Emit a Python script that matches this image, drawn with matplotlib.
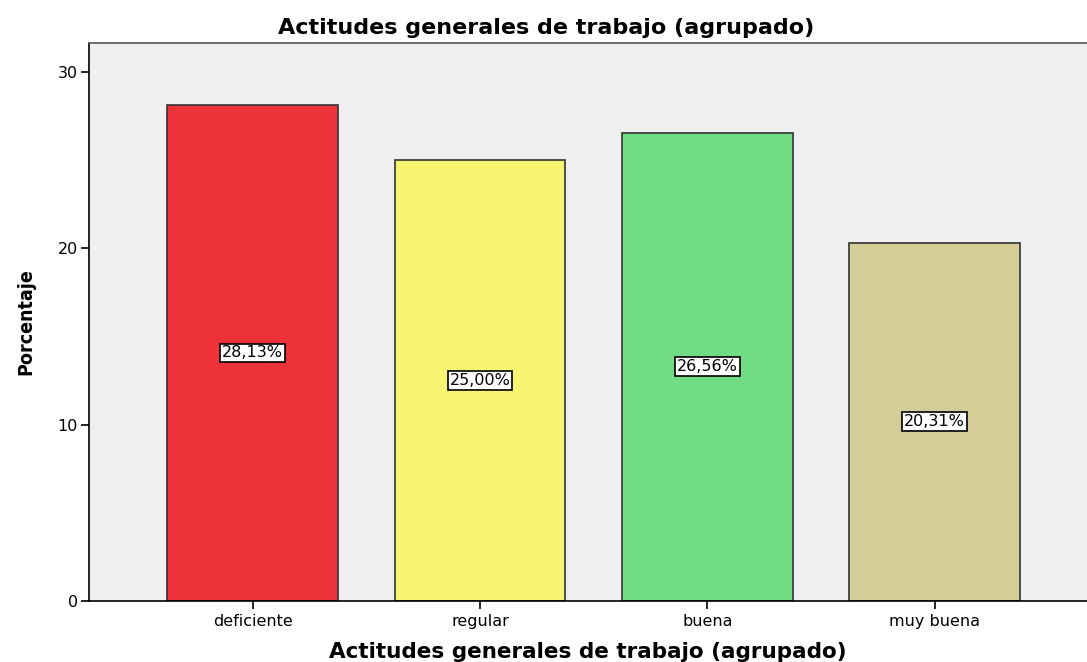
import numpy as np
import matplotlib.pyplot as plt

categorias = ["deficiente", "regular", "buena", "muy buena"]
porcentajes = [28.13, 25.00, 26.56, 20.31]
etiquetas = ["28,13%", "25,00%", "26,56%", "20,31%"]
colores = ["#EE3239", "#F9F471", "#71DC84", "#D4CD98"]

fig = plt.figure(figsize=(10.87, 6.62), dpi=100)
ax = fig.add_axes([89/1087, 61/662, 1 - 89/1087, 558/662])
ax.set_facecolor("#EFEFEF")

x = np.arange(len(categorias))
ax.bar(x, porcentajes, width=0.75, color=colores, edgecolor="#333333", linewidth=1.2, zorder=2)

for xi, v, t in zip(x, porcentajes, etiquetas):
    ax.text(xi, v / 2, t, ha="center", va="center", fontsize=11.5,
            bbox=dict(facecolor="white", edgecolor="black", boxstyle="square,pad=0.12", linewidth=1.2))

ax.set_xlim(-0.72, 3.67)
ax.set_ylim(0, 31.64)
ax.set_yticks([0, 10, 20, 30])
ax.set_xticks(x)
ax.set_xticklabels(categorias, fontsize=11.5)
ax.tick_params(axis="y", labelsize=11.5, length=6, width=1.2, direction="out", pad=2)
ax.tick_params(axis="x", length=6, width=1.2, direction="out")
ax.spines["right"].set_visible(False)
for s in ["left", "bottom", "top"]:
    ax.spines[s].set_linewidth(1.2)
ax.spines["top"].set_color("#555555")

ax.set_ylabel("Porcentaje", fontsize=14, fontweight="bold", labelpad=16, fontstretch="condensed")
ax.set_xlabel("Actitudes generales de trabajo (agrupado)", fontsize=15.5, fontweight="bold", labelpad=9)
fig.text(0.502, 0.958, "Actitudes generales de trabajo (agrupado)", ha="center", va="center",
         fontsize=16, fontweight="bold")

fig.savefig("out.png", dpi=100)
